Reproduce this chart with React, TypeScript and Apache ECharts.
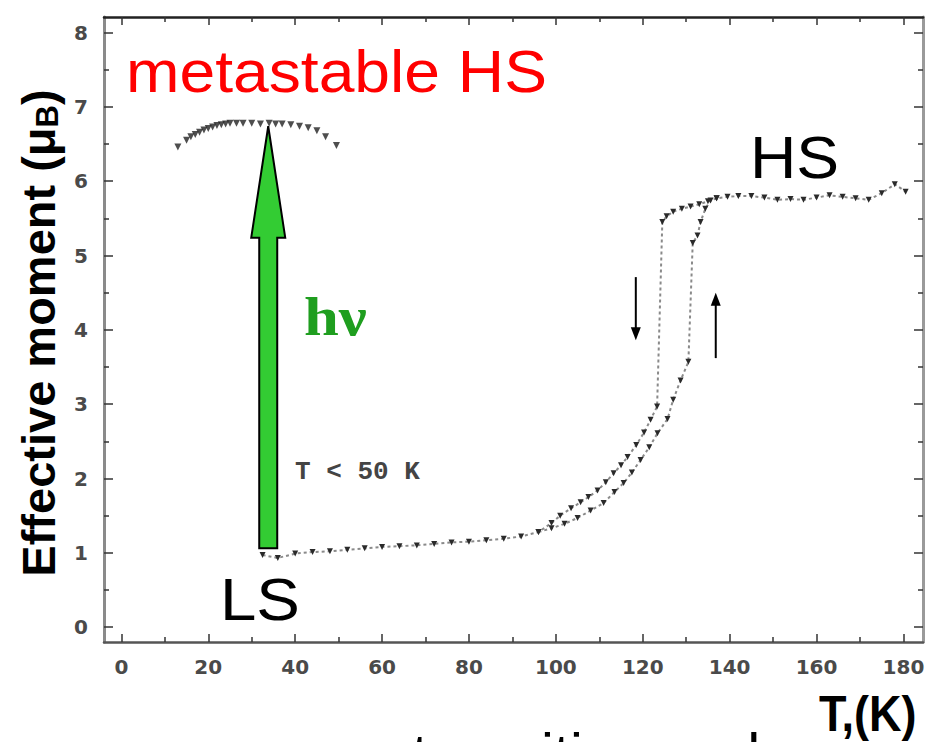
import React, { useEffect, useRef } from "react";
import * as echarts from "echarts";

// ---- data ----
const xMajorTicks = [0, 20, 40, 60, 80, 100, 120, 140, 160, 180];
const xMinorTicks = [10, 30, 50, 70, 90, 110, 130, 150, 170];
const yMajorTicks = [0, 1, 2, 3, 4, 5, 6, 7, 8];
const yMinorTicks = [0.5, 1.5, 2.5, 3.5, 4.5, 5.5, 6.5, 7.5];

const metastableHS: [number, number][] = [
  [13, 6.46], [15, 6.55], [16, 6.6], [17, 6.63], [18, 6.66], [19, 6.69], [20, 6.71],
  [21, 6.73], [22, 6.75], [23, 6.76], [24, 6.77], [25, 6.78], [26.5, 6.78], [28, 6.78],
  [30, 6.78], [32, 6.77], [34, 6.78], [35.5, 6.77], [37, 6.77], [39, 6.76], [41, 6.74],
  [43, 6.72], [45, 6.68], [47, 6.6], [49.5, 6.48],
];

const coolingBranch: [number, number][] = [
  [32.5, 0.97], [36, 0.93], [40, 0.99], [44, 1.01], [48, 1.02], [52, 1.04], [56, 1.06],
  [60, 1.08], [64, 1.09], [68, 1.1], [72, 1.12], [76, 1.14], [80, 1.15], [84, 1.17],
  [88, 1.19], [92, 1.22], [96, 1.28], [99, 1.4], [101, 1.5], [103.5, 1.6], [105.7, 1.68],
  [107.5, 1.75], [109.6, 1.84], [111.5, 1.95], [113.3, 2.07], [115, 2.18], [116.5, 2.29],
  [118.5, 2.45], [120.3, 2.62], [121.8, 2.79], [123.3, 2.97], [124.5, 5.45], [125.5, 5.53],
  [127, 5.59], [129, 5.63], [131, 5.66], [133, 5.69], [135, 5.73], [137, 5.77], [139.5, 5.79],
  [142, 5.8], [145, 5.8], [148, 5.78], [151, 5.75], [154, 5.76], [157, 5.75], [160, 5.78],
  [163, 5.81], [166, 5.79], [169, 5.77], [172, 5.75], [175, 5.84], [178, 5.96], [180.5, 5.86],
];

const heatingBranch: [number, number][] = [
  [96, 1.28], [99, 1.33], [102, 1.39], [105, 1.47], [108, 1.57], [111, 1.67], [113.5, 1.82],
  [115.6, 1.94], [117.5, 2.08], [119.5, 2.25], [121.5, 2.42], [123.4, 2.61], [125.7, 2.8],
  [127, 3.06], [128.7, 3.32], [130.5, 3.57], [131.5, 5.17], [132.6, 5.27], [133.3, 5.45],
  [134.4, 5.63], [135.6, 5.74], [137, 5.77],
];

const X_MIN = -4;
const X_MAX = 184.5;
const Y_MIN = -0.2;
const Y_MAX = 8.21;

const labelFont = {
  color: "#4a4a4a",
  fontFamily: "DejaVu Sans",
  fontWeight: "bold" as const,
  fontSize: 20,
};

function axis(
  dim: "x" | "y",
  position: string,
  ticks: number[],
  tickLen: number,
  lineShow: boolean,
  lineColor: string,
  lineWidth: number,
  labels: boolean
) {
  return {
    type: "value",
    gridIndex: 0,
    position,
    min: dim === "x" ? X_MIN : Y_MIN,
    max: dim === "x" ? X_MAX : Y_MAX,
    axisLine: { show: lineShow, onZero: false, lineStyle: { color: lineColor, width: lineWidth } },
    axisTick: {
      show: true,
      inside: true,
      length: tickLen,
      customValues: ticks,
      lineStyle: { color: "#333", width: 1.5 },
    },
    axisLabel: labels
      ? { show: true, customValues: ticks, margin: dim === "x" ? 15 : 16, ...labelFont }
      : { show: false },
    splitLine: { show: false },
  };
}

export default function App() {
  const ref = useRef<HTMLDivElement>(null);

  useEffect(() => {
    const chart = echarts.init(ref.current!, null, { renderer: "svg" });

    const markerSeries = (name: string, data: [number, number][]) => ({
      name,
      type: "line",
      xAxisIndex: 0,
      yAxisIndex: 0,
      data,
      symbol: "triangle",
      symbolRotate: 180,
      symbolSize: 6,
      itemStyle: { color: "#2a2a2a" },
      lineStyle: { color: "#8a8a8a", width: 2, type: [3, 3] },
      silent: true,
    });

    chart.setOption({
      animation: false,
      backgroundColor: "#ffffff",
      grid: { left: 104, right: 7, top: 17, bottom: 100, containLabel: false },
      xAxis: [
        axis("x", "bottom", xMajorTicks, 8, true, "#555", 2.5, true),
        axis("x", "bottom", xMinorTicks, 5, false, "#555", 2, false),
        axis("x", "top", xMajorTicks, 8, true, "#222", 2.5, false),
        axis("x", "top", xMinorTicks, 5, false, "#222", 2, false),
      ],
      yAxis: [
        axis("y", "left", yMajorTicks, 9, true, "#8a8a8a", 3, true),
        axis("y", "left", yMinorTicks, 5, false, "#8a8a8a", 3, false),
        axis("y", "right", yMajorTicks, 9, true, "#9a9a9a", 3, false),
        axis("y", "right", yMinorTicks, 5, false, "#9a9a9a", 3, false),
      ],
      series: [
        {
          name: "metastable HS",
          type: "scatter",
          xAxisIndex: 0,
          yAxisIndex: 0,
          data: metastableHS,
          symbol: "triangle",
          symbolRotate: 180,
          symbolSize: 7,
          itemStyle: { color: "#222" },
          silent: true,
        },
        markerSeries("cooling", coolingBranch),
        markerSeries("heating", heatingBranch),
      ],
    });

    const P = (x: number, y: number) =>
      chart.convertToPixel({ gridIndex: 0 } as any, [x, y]) as number[];

    // green photo-excitation arrow
    const tip = P(33.8, 6.74);
    const base = P(33.8, 5.24);
    const bottom = P(33.8, 1.06);
    const cx = tip[0];
    const greenArrow = [
      [cx, tip[1]],
      [cx + 17, base[1]],
      [cx + 9, base[1]],
      [cx + 9, bottom[1]],
      [cx - 9, bottom[1]],
      [cx - 9, base[1]],
      [cx - 17, base[1]],
    ];

    // small direction arrows
    const dTop = P(118.4, 4.71);
    const dTip = P(118.4, 3.86);
    const uBot = P(136.8, 3.62);
    const uTip = P(136.8, 4.5);

    const sans = "Liberation Sans, Arial, sans-serif";

    chart.setOption({
      graphic: [
        {
          type: "polygon",
          shape: { points: greenArrow },
          style: { fill: "#33cc33", stroke: "#000", lineWidth: 2 },
          z: 10,
        },
        {
          type: "line",
          shape: { x1: dTop[0], y1: dTop[1], x2: dTip[0], y2: dTip[1] - 10 },
          style: { stroke: "#000", lineWidth: 2 },
        },
        {
          type: "polygon",
          shape: {
            points: [
              [dTip[0] - 5, dTip[1] - 13],
              [dTip[0] + 5, dTip[1] - 13],
              [dTip[0], dTip[1]],
            ],
          },
          style: { fill: "#000" },
        },
        {
          type: "line",
          shape: { x1: uBot[0], y1: uBot[1], x2: uTip[0], y2: uTip[1] + 10 },
          style: { stroke: "#000", lineWidth: 2 },
        },
        {
          type: "polygon",
          shape: {
            points: [
              [uTip[0] - 5, uTip[1] + 13],
              [uTip[0] + 5, uTip[1] + 13],
              [uTip[0], uTip[1]],
            ],
          },
          style: { fill: "#000" },
        },
        {
          type: "text",
          x: 126,
          y: 71,
          scaleX: 1.07,
          style: {
            text: "metastable HS",
            fill: "#ff0000",
            fontSize: 60,
            fontFamily: sans,
            align: "left",
            verticalAlign: "middle",
          },
          z: 20,
        },
        {
          type: "text",
          x: 750,
          y: 157,
          scaleX: 1.07,
          style: {
            text: "HS",
            fill: "#000",
            fontSize: 60,
            fontFamily: sans,
            align: "left",
            verticalAlign: "middle",
          },
          z: 20,
        },
        {
          type: "text",
          x: 220,
          y: 599,
          scaleX: 1.09,
          style: {
            text: "LS",
            fill: "#000",
            fontSize: 60,
            fontFamily: sans,
            align: "left",
            verticalAlign: "middle",
          },
          z: 20,
        },
        {
          type: "text",
          x: 304,
          y: 316,
          scaleX: 1.12,
          style: {
            text: "hν",
            fill: "#1f9e1f",
            fontSize: 56,
            fontWeight: "bold",
            fontFamily: "Liberation Serif, Times New Roman, serif",
            align: "left",
            verticalAlign: "middle",
          },
          z: 20,
        },
        {
          type: "text",
          x: 295,
          y: 472,
          style: {
            text: "T < 50 K",
            fill: "#444",
            fontSize: 26,
            fontWeight: "bold",
            fontFamily: "Liberation Mono, DejaVu Sans Mono, monospace",
            align: "left",
            verticalAlign: "middle",
          },
          z: 20,
        },
        {
          type: "text",
          x: 38,
          y: 333,
          rotation: Math.PI / 2,
          style: {
            text: "{t|Effective moment (μ}{s|B}{t|)}",
            align: "center",
            verticalAlign: "middle",
            rich: {
              t: {
                fontSize: 47,
                fontWeight: "bold",
                fontFamily: sans,
                fill: "#000",
                color: "#000",
              },
              s: {
                fontSize: 31,
                fontWeight: "bold",
                fontFamily: sans,
                fill: "#000",
                color: "#000",
                padding: [18, 0, 0, 0],
              },
            },
          },
          z: 20,
        },
        {
          type: "text",
          x: 819,
          y: 714,
          scaleX: 0.9,
          style: {
            text: "T,(K)",
            fill: "#000",
            fontSize: 50,
            fontWeight: "bold",
            fontFamily: sans,
            align: "left",
            verticalAlign: "middle",
          },
          z: 20,
        },
        {
          type: "text",
          x: 412,
          y: 753,
          style: {
            text: "transition and",
            fill: "#000",
            fontSize: 58,
            fontFamily: sans,
            align: "left",
            verticalAlign: "middle",
          },
          z: 20,
        },
      ],
    });

    return () => chart.dispose();
  }, []);

  return (
    <div
      ref={ref}
      style={{ position: "fixed", left: 0, top: 0, width: 930, height: 742, background: "#fff" }}
    />
  );
}
